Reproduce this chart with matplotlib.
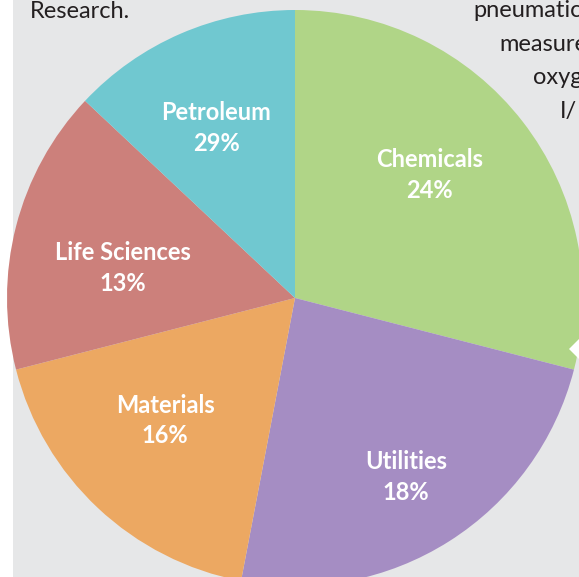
import matplotlib
matplotlib.use("Agg")
import matplotlib.pyplot as plt
from matplotlib.patches import Rectangle, Polygon
import numpy as np

# slices, clockwise from 12 o'clock
sectors = ["Chemicals", "Utilities", "Materials", "Life Sciences", "Petroleum"]
shares = [29, 24, 18, 16, 13]
# percentages as printed on the chart
printed = ["24%", "18%", "16%", "13%", "29%"]
colors = ["#b0d587", "#a58dc3", "#eca862", "#cc807b", "#70c8d0"]
# label placement: fraction of radius, degrees off the slice middle
labelRadius = [0.632, 0.731, 0.621, 0.606, 0.651]
labelTurn = [4.7, -0.6, -3.4, 4.5, 1.5]

W, H = 579, 577
fig = plt.figure(figsize=(W / 100, H / 100), dpi=100)
ax = fig.add_axes([0, 0, 1, 1])
ax.set_facecolor("#e6e7e8")

# white page margin on the left
ax.add_patch(Rectangle((0, 0), 13, H, facecolor="white", edgecolor="none", zorder=0))

cx, cy, R = 295, H - 298, 288
wedges, _ = ax.pie(shares, colors=colors, startangle=90, counterclock=False,
                   center=(cx, cy), radius=R, wedgeprops=dict(linewidth=0),
                   frame=True)
for w in wedges:
    w.set_zorder(2)

for w, name, pct, rf, turn in zip(wedges, sectors, printed, labelRadius, labelTurn):
    mid = np.deg2rad((w.theta1 + w.theta2) / 2 + turn)
    ax.text(cx + rf * R * np.cos(mid), cy + rf * R * np.sin(mid),
            name + "\n" + pct, color="white", fontsize=17, fontweight="bold",
            family=["Lato", "DejaVu Sans"], ha="center", va="center",
            linespacing=1.38, zorder=3)

# callout notch on the right
ax.add_patch(Polygon([(569, H - 349), (581, H - 337), (581, H - 361)],
                     closed=True, facecolor="white", edgecolor="none", zorder=4))

# surrounding page text (runs off the right edge of the crop)
ax.text(30, H - 18, "Research.", fontsize=17, color="#231f20",
        family=["Lato", "DejaVu Sans"], va="baseline")
sideText = ["pneumatic", "measure", "oxyg", "I/"]
sideX = [473, 499, 533, 560]
sideY = [17, 51, 84, 118]
for t, x, y in zip(sideText, sideX, sideY):
    ax.text(x, H - y, t, fontsize=17, color="#231f20",
            family=["Lato", "DejaVu Sans"], va="baseline", clip_on=True)

ax.set_xlim(0, W)
ax.set_ylim(0, H)
ax.set_aspect("equal", adjustable="box")
ax.set_xticks([])
ax.set_yticks([])
for s in ax.spines.values():
    s.set_visible(False)

fig.savefig("out.png", dpi=100)
